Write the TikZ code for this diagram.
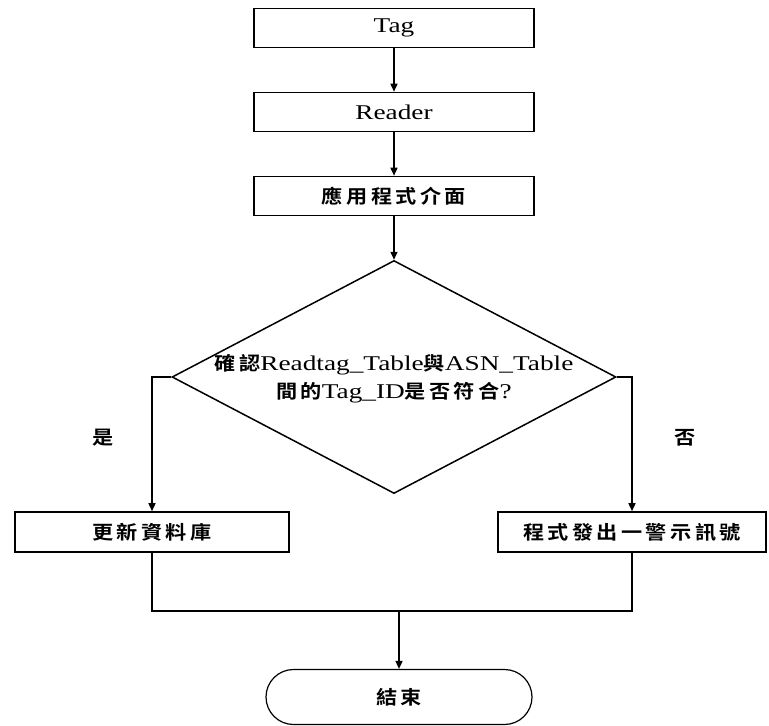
\documentclass[tikz,border=0pt]{standalone}
\usepackage{fontspec}
\setmainfont{Liberation Serif}[FakeStretch=1.3]
\newfontfamily\cjk{Noto Sans CJK TC Bold}[FakeStretch=1.12,LetterSpace=18,Scale=0.9]
\usetikzlibrary{arrows.meta,shapes.geometric,shapes.misc}
\tikzset{
  box/.style={draw,line width=1.6pt,minimum height=39pt,inner sep=0pt,font=\fontsize{21}{26}\selectfont},
  conn/.style={line width=1.5pt},
  arr/.style={conn,-{Triangle[length=8pt,width=7pt]}},
  lbl/.style={font=\fontsize{21}{26}\selectfont\cjk,inner sep=0pt},
}
\begin{document}
\begin{tikzpicture}[x=1pt,y=1pt]
\useasboundingbox (0,0) rectangle (769,-726);
\node[box,minimum width=280pt] (tag) at (394,-28) {Tag};
\node[box,minimum width=280pt] (rdr) at (394,-112) {Reader};
\node[box,minimum width=280pt] (api) at (394,-196) {\cjk 應用程式介面};
\node[diamond,draw,line width=1.5pt,minimum width=444pt,minimum height=233pt,inner sep=0pt] (dec) at (394,-377) {};
\node[font=\fontsize{21}{28}\selectfont,align=center,inner sep=0pt] (dtext) at (394,-379)
  {{\cjk 確認}Readtag\_Table{\cjk 與}ASN\_Table\\{\cjk 間的}Tag\_ID{\cjk 是否符合}?};
\node[box,minimum width=274pt,minimum height=40pt] (upd) at (152,-532) {\cjk 更新資料庫};
\node[box,minimum width=268pt,minimum height=40pt] (warn) at (632,-532) {\cjk 程式發出一警示訊號};
\node[rounded rectangle,draw,line width=1.2pt,minimum width=266pt,minimum height=55pt,inner sep=0pt,font=\fontsize{21}{26}\selectfont] (end) at (399,-697) {\cjk 結束};
\node[lbl] (yes) at (103,-438) {是};
\node[lbl] (no) at (685,-438) {否};
\coordinate (merge) at (399,-611);
\draw[arr] (tag) -- (rdr);
\draw[arr] (rdr) -- (api);
\draw[arr] (api) -- (dec.north);
\draw[arr] (dec.west) -| (upd.north);
\draw[arr] (dec.east) -| (warn.north);
\draw[conn] (upd.south) |- (merge) -| (warn.south);
\draw[arr] (merge) -- (end.north);
\end{tikzpicture}
\end{document}
